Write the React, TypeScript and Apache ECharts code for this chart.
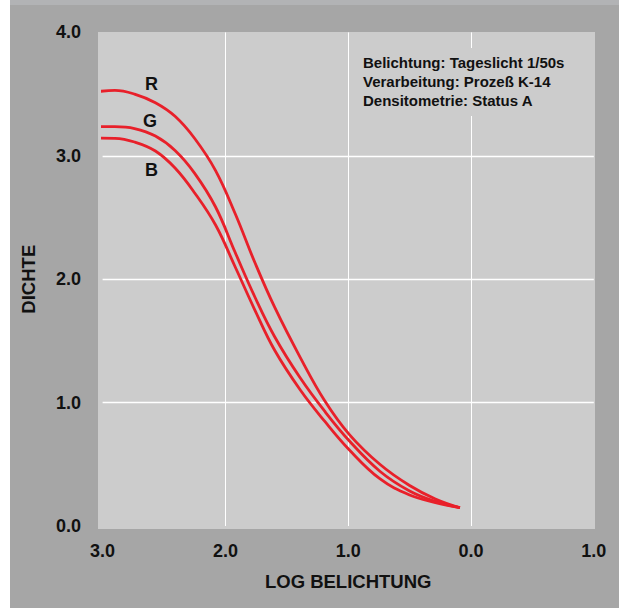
import React, { useEffect, useRef } from "react";
import * as echarts from "echarts";

// Log exposure sample points (shared) and density per layer
const logE = [3.04, 2.9, 2.74, 2.57, 2.41, 2.25, 2.08, 1.92, 1.76, 1.6, 1.39, 1.19, 0.99, 0.74, 0.5, 0.29, 0.09];
const rDensity = [3.52, 3.53, 3.5, 3.43, 3.32, 3.14, 2.88, 2.53, 2.135, 1.775, 1.365, 1.013, 0.741, 0.498, 0.328, 0.219, 0.148];
const gDensity = [3.236, 3.236, 3.221, 3.16, 3.043, 2.858, 2.585, 2.216, 1.856, 1.536, 1.199, 0.928, 0.689, 0.442, 0.284, 0.199, 0.148];
const bDensity = [3.144, 3.142, 3.112, 3.039, 2.901, 2.699, 2.439, 2.099, 1.75, 1.426, 1.102, 0.847, 0.616, 0.381, 0.251, 0.19, 0.148];

const layerNames = ["R", "G", "B"];
const labelLogE = [2.602, 2.614, 2.602];
const labelDensity = [3.578, 3.284, 2.887];

const infoLines = [
  "Belichtung: Tageslicht 1/50s",
  "Verarbeitung: Prozeß K-14",
  "Densitometrie: Status A",
];

const xName = "LOG BELICHTUNG";
const yName = "DICHTE";

const FONT = "'Liberation Sans', Arial, Helvetica, sans-serif";
const RED = "#e8202a";
const TEXT = "#111111";

const pairs = (xs: number[], ys: number[]) => xs.map((x, i) => [x, ys[i]]);

export default function App() {
  const ref = useRef<HTMLDivElement>(null);

  useEffect(() => {
    if (!ref.current) return;
    const chart = echarts.init(ref.current, undefined, { renderer: "svg" });
    const seriesData = [pairs(logE, rDensity), pairs(logE, gDensity), pairs(logE, bDensity)];

    chart.setOption({
      animation: false,
      backgroundColor: "#ffffff",
      grid: { left: 102.6, right: 25.2, top: 32.4, bottom: 82, containLabel: false },
      xAxis: {
        type: "value",
        inverse: true,
        min: -1,
        max: 3,
        interval: 1,
        name: xName,
        nameLocation: "middle",
        nameGap: 46.4,
        nameTextStyle: { fontFamily: FONT, fontWeight: "bold", fontSize: 18.5, color: TEXT },
        axisLine: { show: false },
        axisTick: { show: false },
        axisLabel: {
          margin: 16.3,
          fontFamily: FONT,
          fontWeight: "bold",
          fontSize: 18,
          color: TEXT,
          formatter: (v: number) => Math.abs(v).toFixed(1),
        },
        splitLine: { show: true, showMinLine: false, showMaxLine: false, lineStyle: { color: "#ffffff", width: 1 } },
      },
      yAxis: {
        type: "value",
        min: 0,
        max: 4,
        interval: 1,
        name: yName,
        nameLocation: "middle",
        nameGap: 64.5,
        nameTextStyle: { fontFamily: FONT, fontWeight: "bold", fontSize: 18.5, color: TEXT },
        axisLine: { show: false },
        axisTick: { show: false },
        axisLabel: {
          margin: 21.5,
          fontFamily: FONT,
          fontWeight: "bold",
          fontSize: 18,
          color: TEXT,
          formatter: (v: number) => v.toFixed(1),
        },
        splitLine: { show: true, showMinLine: false, showMaxLine: false, lineStyle: { color: "#ffffff", width: 1.3 } },
      },
      graphic: [
        { type: "rect", z: -10, shape: { x: 10, y: 0, width: 609, height: 5 }, style: { fill: "#b2b3b5" } },
        { type: "rect", z: -10, shape: { x: 10, y: 5, width: 609, height: 603 }, style: { fill: "#a6a6a6" } },
        { type: "rect", z: -9, shape: { x: 98, y: 32, width: 497, height: 497 }, style: { fill: "#cccccc" } },
        { type: "rect", z: 5, shape: { x: 356, y: 48, width: 225, height: 68 }, style: { fill: "#cccccc" } },
        ...infoLines.map((t, i) => ({
          type: "text",
          z: 6,
          x: 363,
          y: 62 + i * 19.3,
          style: {
            text: t,
            fill: TEXT,
            fontFamily: FONT,
            fontWeight: "bold",
            fontSize: 15,
            textAlign: "left",
            textVerticalAlign: "middle",
          },
        })),
      ],
      series: seriesData.map((d, i) => ({
        type: "line",
        name: layerNames[i],
        data: d,
        smooth: 0.4,
        showSymbol: false,
        clip: false,
        lineStyle: { color: RED, width: 2.8 },
        itemStyle: { color: RED },
        markPoint: {
          symbol: "circle",
          symbolSize: 0,
          silent: true,
          data: [
            {
              coord: [labelLogE[i], labelDensity[i]],
              label: {
                show: true,
                position: "inside",
                formatter: layerNames[i],
                fontFamily: FONT,
                fontWeight: "bold",
                fontSize: 18,
                color: TEXT,
              },
            },
          ],
        },
      })),
    });

    return () => chart.dispose();
  }, []);

  return (
    <div style={{ position: "fixed", left: 0, top: 0, width: 619, height: 608, background: "#ffffff" }}>
      <div ref={ref} style={{ width: 619, height: 608 }} />
    </div>
  );
}
